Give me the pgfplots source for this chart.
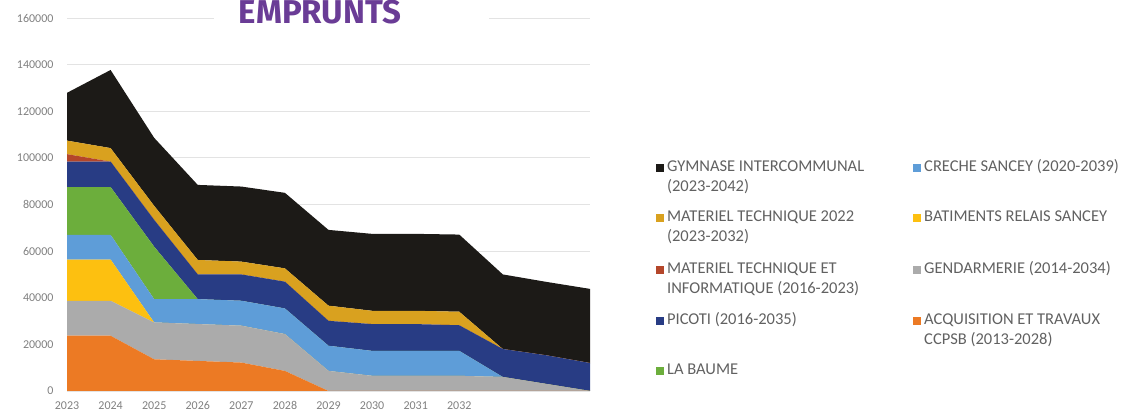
\documentclass[border=0pt]{standalone}
\usepackage{fontspec}
\setmainfont{Carlito}
\newfontfamily\titlefont{Fira Sans}
\usepackage{pgfplots}
\usepackage{pgfplotstable}
\pgfplotsset{compat=1.18}

\definecolor{cgym}{HTML}{1C1A17}
\definecolor{cmt22}{HTML}{D9A11F}
\definecolor{cmti}{HTML}{B4462A}
\definecolor{cpicoti}{HTML}{283C84}
\definecolor{cbaume}{HTML}{6CAE3C}
\definecolor{ccreche}{HTML}{5E9DD8}
\definecolor{cbat}{HTML}{FDC010}
\definecolor{cgend}{HTML}{ABABAB}
\definecolor{cacq}{HTML}{EC7A24}
\definecolor{ctitle}{HTML}{6A3C96}
\definecolor{cgrid}{HTML}{E3E3E3}

% two-line legend text, aligned on its first line
\newcommand{\twolines}[2]{\vtop{\hbox{#1}\hbox{#2}}}

% remboursements annuels par emprunt (2023 = 0)
\pgfplotstableread{
x  acq   gend  bat   creche baume picoti mti  mt22 gym
0  23700 15000 17700 10600  20500 10900  3200 5800 20500
1  23700 15000 17700 10600  20500 10900  0    5800 33500
2  13600 15800 0     10000  22500 11500  0    6000 29200
3  12900 15800 0     10700  0     10600  0    6200 32200
4  12200 15800 0     10700  0     11300  0    5500 32200
5  8600  15800 0     11000  0     11500  0    5700 32400
6  0     8600  0     10800  0     10700  0    6500 32500
7  0     6500  0     10700  0     11500  0    5700 33000
8  0     6500  0     10700  0     11500  0    5700 33000
9  0     6500  0     10700  0     11000  0    5800 33100
10 0     6000  0     0      0     12000  0    0    32000
11 0     3000  0     0      0     12300  0    0    31500
12 0     0     0     0      0     12000  0    0    31800
}\emprunts

\begin{document}
\begin{tikzpicture}
\path[use as bounding box] (0pt,0pt) rectangle (1125pt,414pt);
\begin{axis}[
  at={(67pt,23pt)}, anchor=south west,
  scale only axis, width=523pt, height=373pt,
  xmin=0, xmax=12, ymin=0, ymax=160000,
  stack plots=y,
  axis line style={draw=none}, tick style={draw=none},
  ymajorgrids, grid style={cgrid, line width=0.8pt},
  ytick={0,20000,...,160000},
  xtick={0,...,9},
  xticklabels={2023,2024,2025,2026,2027,2028,2029,2030,2031,2032},
  scaled y ticks=false,
  /pgf/number format/.cd, fixed, 1000 sep={}, assume math mode=true,
  /pgfplots/.cd,
  ticklabel style={font=\fontsize{12}{14}\selectfont, text=black!50},
  yticklabel style={xshift=-10pt},
  xticklabel style={yshift=-7pt},
  legend image code/.code={\fill[#1, draw=none] (0pt,-0.5pt) rectangle (8pt,7.5pt);},
  legend columns=2,
  legend style={
    at={(rel axis cs:1.126,0.627)}, anchor=north west,
    draw=none, fill=none, inner sep=0pt,
    font=\fontsize{16.5}{20}\selectfont, text=black!62,
    cells={anchor=base west, inner sep=1pt},
    row sep=34pt, column sep=1pt,
    /tikz/every even column/.append style={column sep=47pt},
  },
]
\addplot[fill=cacq, draw=none, forget plot] table[x=x, y=acq]{\emprunts} \closedcycle;
\addplot[fill=cgend, draw=none, forget plot] table[x=x, y=gend]{\emprunts} \closedcycle;
\addplot[fill=cbat, draw=none, forget plot] table[x=x, y=bat]{\emprunts} \closedcycle;
\addplot[fill=ccreche, draw=none, forget plot] table[x=x, y=creche]{\emprunts} \closedcycle;
\addplot[fill=cbaume, draw=none, forget plot] table[x=x, y=baume]{\emprunts} \closedcycle;
\addplot[fill=cpicoti, draw=none, forget plot] table[x=x, y=picoti]{\emprunts} \closedcycle;
\addplot[fill=cmti, draw=none, forget plot] table[x=x, y=mti]{\emprunts} \closedcycle;
\addplot[fill=cmt22, draw=none, forget plot] table[x=x, y=mt22]{\emprunts} \closedcycle;
\addplot[fill=cgym, draw=none, forget plot] table[x=x, y=gym]{\emprunts} \closedcycle;

\addlegendimage{fill=cgym}
\addlegendentry{\twolines{GYMNASE INTERCOMMUNAL}{(2023-2042)}}
\addlegendimage{fill=ccreche}
\addlegendentry{CRECHE SANCEY (2020-2039)}
\addlegendimage{fill=cmt22}
\addlegendentry{\twolines{MATERIEL TECHNIQUE 2022}{(2023-2032)}}
\addlegendimage{fill=cbat}
\addlegendentry{BATIMENTS RELAIS SANCEY}
\addlegendimage{fill=cmti}
\addlegendentry{\twolines{MATERIEL TECHNIQUE ET}{INFORMATIQUE (2016-2023)}}
\addlegendimage{fill=cgend}
\addlegendentry{GENDARMERIE (2014-2034)}
\addlegendimage{fill=cpicoti}
\addlegendentry{PICOTI (2016-2035)}
\addlegendimage{fill=cacq}
\addlegendentry{\twolines{ACQUISITION ET TRAVAUX}{CCPSB (2013-2028)}}
\addlegendimage{fill=cbaume}
\addlegendentry{LA BAUME}
\end{axis}
% title over the top grid line
\fill[white] (214pt,391pt) rectangle (489pt,414pt);
\node[anchor=base, inner sep=0pt, text=ctitle,
  font=\titlefont\bfseries\fontsize{33}{33}\selectfont] at (320pt,390pt) {EMPRUNTS};
\end{tikzpicture}
\end{document}
